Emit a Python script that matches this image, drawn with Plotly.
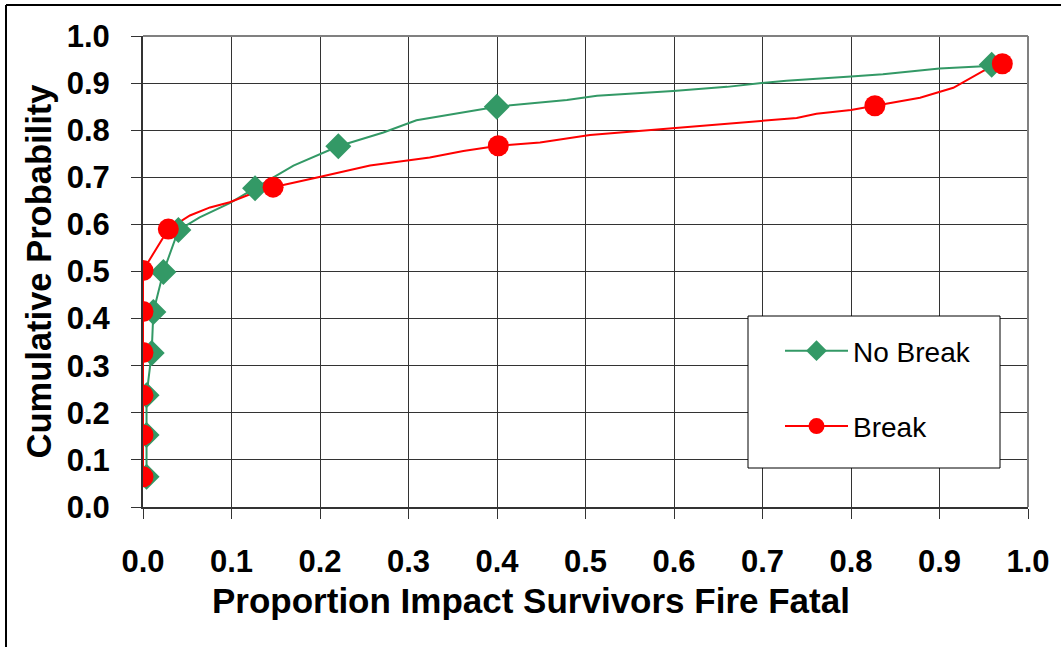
import plotly.graph_objects as go

# No Break: line path
nb_x = [0.004, 0.004, 0.004, 0.0098, 0.0117, 0.023, 0.040, 0.064, 0.098, 0.1266, 0.17, 0.2207,
        0.2716, 0.309, 0.362, 0.3997, 0.479, 0.513, 0.599, 0.66, 0.699, 0.727, 0.80, 0.836, 0.90, 0.9495, 0.959]
nb_y = [0.064, 0.153, 0.237, 0.327, 0.414, 0.499, 0.588, 0.615, 0.645, 0.677, 0.725, 0.766,
        0.795, 0.821, 0.837, 0.850, 0.864, 0.873, 0.883, 0.892, 0.900, 0.905, 0.914, 0.919, 0.931, 0.936, 0.939]
# No Break: marker points
nbm_x = [0.004, 0.004, 0.004, 0.0098, 0.0117, 0.023, 0.040, 0.1266, 0.2207, 0.3997, 0.959]
nbm_y = [0.064, 0.153, 0.237, 0.327, 0.414, 0.499, 0.588, 0.677, 0.766, 0.850, 0.939]

# Break: line path
br_x = [0.0, 0.0, 0.0, 0.0, 0.0, 0.0, 0.0286, 0.053, 0.0757, 0.098, 0.121, 0.147, 0.198, 0.2565,
        0.324, 0.362, 0.4015, 0.4486, 0.505, 0.55, 0.599, 0.699, 0.7386, 0.761, 0.80, 0.827,
        0.878, 0.9156, 0.9495, 0.971]
br_y = [0.064, 0.153, 0.237, 0.328, 0.415, 0.502, 0.590, 0.619, 0.636, 0.647, 0.664, 0.679, 0.700, 0.725,
        0.742, 0.756, 0.767, 0.774, 0.790, 0.797, 0.804, 0.820, 0.826, 0.835, 0.843, 0.852,
        0.869, 0.890, 0.926, 0.941]
# Break: marker points
brm_x = [0.0, 0.0, 0.0, 0.0, 0.0, 0.0, 0.0286, 0.147, 0.4015, 0.827, 0.971]
brm_y = [0.064, 0.153, 0.237, 0.328, 0.415, 0.502, 0.590, 0.679, 0.767, 0.852, 0.941]

x_ticks = [0.0, 0.1, 0.2, 0.3, 0.4, 0.5, 0.6, 0.7, 0.8, 0.9, 1.0]
y_ticks = [0.0, 0.1, 0.2, 0.3, 0.4, 0.5, 0.6, 0.7, 0.8, 0.9, 1.0]

GREEN = "#339966"
RED = "#FF0000"
FONT = "Liberation Sans, Arial, sans-serif"

W, H = 1061, 647
L, R, T, B = 143, 33, 36, 140
PW, PH = W - L - R, H - T - B


def px(x):
    return (x - L) / PW


def py(y):
    return (H - B - y) / PH


fig = go.Figure()
fig.add_trace(go.Scatter(x=nb_x, y=nb_y, mode="lines", line=dict(color=GREEN, width=2),
                         showlegend=False, hoverinfo="skip"))
fig.add_trace(go.Scatter(x=br_x, y=br_y, mode="lines", line=dict(color=RED, width=2),
                         showlegend=False, hoverinfo="skip"))
fig.add_trace(go.Scatter(x=nbm_x, y=nbm_y, mode="markers", name="No Break", showlegend=False,
                         marker=dict(symbol="diamond", size=20, color=GREEN, line=dict(width=0))))
fig.add_trace(go.Scatter(x=brm_x, y=brm_y, mode="markers", name="Break", showlegend=False,
                         marker=dict(symbol="circle", size=21, color=RED, line=dict(width=0))))

# legend entries (line + marker look)
fig.add_trace(go.Scatter(x=[None], y=[None], mode="lines+markers", name="No Break",
                         line=dict(color=GREEN, width=2),
                         marker=dict(symbol="diamond", size=18, color=GREEN), legendgroup="a"))
fig.add_trace(go.Scatter(x=[None], y=[None], mode="lines+markers", name="Break",
                         line=dict(color=RED, width=2),
                         marker=dict(symbol="circle", size=16, color=RED), legendgroup="b"))

# outer frame (top and left lines)
fig.add_shape(type="line", xref="paper", yref="paper", x0=px(6), x1=px(W + 5),
              y0=py(5), y1=py(5), line=dict(color="black", width=2))
fig.add_shape(type="line", xref="paper", yref="paper", x0=px(6), x1=px(6),
              y0=py(5), y1=py(H + 5), line=dict(color="black", width=2))
# plot area top/right border
fig.add_shape(type="line", xref="paper", yref="paper", x0=0, x1=1, y0=1, y1=1,
              line=dict(color="#808080", width=2))
fig.add_shape(type="line", xref="paper", yref="paper", x0=1, x1=1, y0=0, y1=1,
              line=dict(color="#808080", width=2))
# legend box
fig.add_shape(type="rect", xref="paper", yref="paper", x0=px(748), x1=px(1000),
              y0=py(468), y1=py(316), fillcolor="white", line=dict(color="black", width=1),
              layer="above")

# x-axis title
fig.add_annotation(text="<b>Proportion Impact Survivors Fire Fatal</b>", xref="paper", yref="paper",
                   x=px(531), y=py(600), xanchor="center", yanchor="middle", showarrow=False,
                   font=dict(size=35, family=FONT, color="black"))

fig.update_layout(
    width=W, height=H,
    margin=dict(l=L, r=R, t=T, b=B),
    paper_bgcolor="white", plot_bgcolor="white",
    font=dict(family=FONT, color="black"),
    legend=dict(x=px(780), y=py(326), xanchor="left", yanchor="top",
                bgcolor="rgba(0,0,0,0)", borderwidth=0,
                font=dict(size=28, color="black", family=FONT), traceorder="grouped",
                tracegroupgap=36, itemwidth=63),
    xaxis=dict(range=[0, 1], tickvals=x_ticks, ticktext=[f"{v:.1f}" for v in x_ticks],
               showgrid=True, gridcolor="#333333", gridwidth=1,
               showline=True, linecolor="#333333", linewidth=2,
               ticks="outside", ticklen=10, tickcolor="#333333", tickwidth=1,
               tickfont=dict(size=31, family=FONT, weight="bold"),
               ticklabelstandoff=16, zeroline=False),
    yaxis=dict(range=[0, 1], tickvals=y_ticks, ticktext=[f"{v:.1f}" for v in y_ticks],
               showgrid=True, gridcolor="#333333", gridwidth=1,
               showline=True, linecolor="#333333", linewidth=2,
               ticks="outside", ticklen=10, tickcolor="#333333", tickwidth=1,
               tickfont=dict(size=31, family=FONT, weight="bold"),
               ticklabelstandoff=15, zeroline=False,
               title=dict(text="<b>Cumulative Probability</b>", font=dict(size=34.5, family=FONT),
                          standoff=5)),
)

fig.write_html("out.html", config={"displayModeBar": False},
               post_script="document.body.style.margin='0px';")
